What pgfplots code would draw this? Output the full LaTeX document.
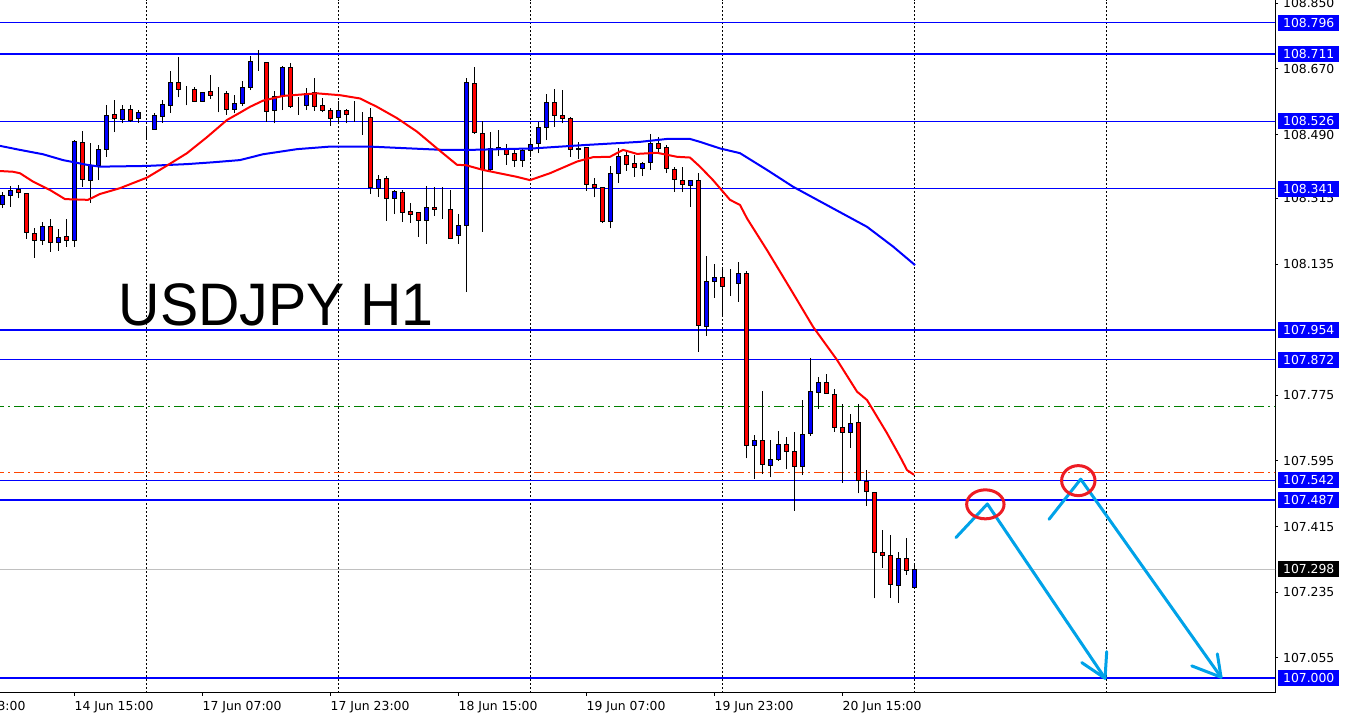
\documentclass[border=0pt]{standalone}
\usepackage{fontspec}
\setmainfont{DejaVu Sans}
\newfontfamily\arialf{Liberation Sans}
\usepackage{pgfplots}
\usepackage{pgfplotstable}
\pgfplotsset{compat=1.18}
\definecolor{mtblue}{RGB}{0,0,255}
\definecolor{mtred}{RGB}{255,0,0}
\definecolor{arrowblue}{RGB}{0,162,232}
\definecolor{circred}{RGB}{237,28,36}
\definecolor{dgreen}{RGB}{0,128,0}
\definecolor{ored}{RGB}{255,69,0}
\definecolor{bidgray}{RGB}{192,192,192}

\pgfplotstableread{
k o h l c
0 108.299 108.333 108.288 108.324
1 108.324 108.349 108.292 108.337
2 108.340 108.351 108.315 108.331
3 108.329 108.329 108.204 108.222
4 108.219 108.234 108.152 108.200
5 108.200 108.250 108.188 108.237
6 108.237 108.258 108.169 108.195
7 108.195 108.230 108.172 108.208
8 108.211 108.258 108.183 108.200
9 108.200 108.475 108.181 108.472
10 108.469 108.501 108.347 108.367
11 108.365 108.466 108.303 108.406
12 108.404 108.461 108.365 108.450
13 108.450 108.570 108.429 108.543
14 108.546 108.585 108.497 108.534
15 108.530 108.571 108.521 108.559
16 108.559 108.570 108.525 108.529
17 108.533 108.557 108.523 108.551
18 108.502 108.514 108.475 108.502
19 108.503 108.549 108.503 108.543
20 108.540 108.586 108.523 108.573
21 108.570 108.664 108.550 108.633
22 108.633 108.704 108.592 108.614
23 108.615 108.623 108.570 108.615
24 108.614 108.621 108.579 108.581
25 108.581 108.608 108.580 108.606
26 108.609 108.654 108.587 108.598
27 108.603 108.621 108.551 108.603
28 108.603 108.610 108.544 108.559
29 108.559 108.598 108.548 108.576
30 108.576 108.637 108.569 108.620
31 108.620 108.705 108.612 108.691
32 108.689 108.722 108.665 108.689
33 108.688 108.688 108.525 108.553
34 108.556 108.610 108.521 108.594
35 108.594 108.678 108.557 108.675
36 108.675 108.687 108.563 108.566
37 108.569 108.594 108.545 108.569
38 108.569 108.617 108.557 108.603
39 108.606 108.644 108.555 108.566
40 108.571 108.589 108.551 108.556
41 108.557 108.562 108.514 108.533
42 108.536 108.582 108.523 108.557
43 108.557 108.560 108.521 108.546
44 108.546 108.582 108.525 108.546
45 108.538 108.553 108.489 108.538
46 108.537 108.562 108.327 108.346
47 108.343 108.379 108.320 108.367
48 108.370 108.376 108.253 108.315
49 108.315 108.338 108.272 108.335
50 108.332 108.338 108.251 108.277
51 108.280 108.302 108.248 108.271
52 108.275 108.275 108.210 108.255
53 108.255 108.349 108.191 108.291
54 108.291 108.347 108.268 108.285
55 108.287 108.347 108.259 108.287
56 108.285 108.338 108.203 108.206
57 108.212 108.272 108.190 108.242
58 108.242 108.644 108.058 108.633
59 108.631 108.674 108.492 108.496
60 108.494 108.527 108.224 108.393
61 108.393 108.498 108.388 108.452
62 108.448 108.503 108.432 108.455
63 108.452 108.464 108.407 108.436
64 108.439 108.454 108.402 108.420
65 108.420 108.452 108.402 108.445
66 108.445 108.478 108.429 108.463
67 108.466 108.525 108.439 108.510
68 108.510 108.601 108.475 108.579
69 108.579 108.615 108.512 108.542
70 108.543 108.612 108.521 108.534
71 108.535 108.539 108.429 108.448
72 108.448 108.470 108.422 108.452
73 108.455 108.457 108.336 108.354
74 108.354 108.372 108.318 108.346
75 108.344 108.344 108.247 108.251
76 108.251 108.404 108.233 108.384
77 108.384 108.452 108.358 108.430
78 108.433 108.448 108.391 108.409
79 108.411 108.434 108.374 108.400
80 108.397 108.416 108.376 108.411
81 108.414 108.492 108.393 108.466
82 108.466 108.483 108.439 108.452
83 108.455 108.461 108.384 108.397
84 108.395 108.400 108.333 108.367
85 108.364 108.400 108.333 108.354
86 108.351 108.364 108.292 108.364
87 108.364 108.385 107.895 107.967
88 107.963 108.157 107.938 108.088
89 108.087 108.135 108.043 108.099
90 108.099 108.128 107.995 108.074
91 108.078 108.121 108.047 108.078
92 108.082 108.141 108.032 108.110
93 108.110 108.116 107.602 107.636
94 107.637 107.666 107.545 107.650
95 107.650 107.787 107.559 107.586
96 107.582 107.652 107.550 107.600
97 107.600 107.678 107.596 107.641
98 107.641 107.660 107.572 107.622
99 107.622 107.674 107.459 107.579
100 107.579 107.762 107.557 107.668
101 107.670 107.877 107.664 107.786
102 107.783 107.826 107.738 107.811
103 107.811 107.834 107.779 107.781
104 107.778 107.792 107.675 107.687
105 107.687 107.751 107.535 107.674
106 107.674 107.724 107.631 107.698
107 107.701 107.751 107.506 107.542
108 107.539 107.570 107.472 107.511
109 107.509 107.509 107.218 107.345
110 107.343 107.406 107.302 107.336
111 107.336 107.392 107.220 107.257
112 107.253 107.345 107.206 107.328
113 107.328 107.384 107.283 107.295
114 107.248 107.314 107.243 107.298
}\candles

\pgfplotstableread{
k p
-0.29 108.390
1.34 108.388
2.21 108.384
3.84 108.361
5.96 108.338
7.84 108.313
10.71 108.311
12.21 108.327
14.71 108.343
18.09 108.372
20.59 108.405
23.09 108.439
25.59 108.483
28.09 108.530
29.71 108.550
30.96 108.566
32.59 108.583
35.09 108.596
39.34 108.603
42.21 108.598
44.71 108.589
46.84 108.566
49.34 108.535
51.84 108.498
54.34 108.452
56.84 108.407
57.96 108.406
60.09 108.393
64.34 108.374
65.96 108.365
68.46 108.384
71.84 108.416
73.84 108.428
75.96 108.429
77.59 108.448
79.34 108.437
81.84 108.440
84.34 108.429
85.96 108.427
87.21 108.402
88.84 108.365
90.96 108.311
92.21 108.297
93.09 108.260
95.59 108.173
98.84 108.055
101.34 107.963
104.34 107.872
106.84 107.785
108.09 107.762
110.59 107.671
112.21 107.607
113.09 107.570
113.96 107.557
}\maRed

\pgfplotstableread{
k p
-0.29 108.459
2.21 108.448
5.09 108.436
7.59 108.420
10.59 108.407
12.21 108.402
18.09 108.404
23.09 108.409
26.34 108.414
29.71 108.420
32.59 108.436
36.84 108.450
40.96 108.457
45.96 108.457
50.96 108.452
55.09 108.448
58.46 108.448
66.34 108.452
72.59 108.461
79.71 108.470
83.09 108.478
85.96 108.478
87.21 108.470
89.71 108.452
92.21 108.439
95.59 108.393
98.84 108.347
103.46 108.292
108.09 108.237
111.34 108.183
114.09 108.132
}\maBlue

\pgfplotsset{
  base/.style={at={(0,0)}, anchor=south west, scale only axis,
    width=637.5pt, height=346.25pt,
    xmin=-0.2875, xmax=159.0875, ymin=106.960, ymax=108.859},
}
\tikzset{
  lbl/.style={anchor=west, inner sep=0pt, font=\fontsize{6.2}{7}\selectfont},
  bbox/.style={anchor=west, inner sep=0pt, minimum width=30.85pt, minimum height=8pt, fill=mtblue},
}

\begin{document}
\begin{tikzpicture}
\useasboundingbox (0,-13.25pt) rectangle (673.5pt,346.25pt);
% Layer A: frame, grid, levels, wicks
\begin{axis}[base,
  axis x line*=bottom, axis y line*=right,
  axis line style={-,black,line width=0.5pt},
  tick align=outside, major tick length=1.6pt,
  tick style={black,line width=0.5pt},
  xtick={-7,9,25,41,57,73,89,105}, xticklabels={},
  ytick={108.850,108.670,108.490,108.315,108.135,107.775,107.595,107.415,107.235,107.055},
  yticklabels={},
  extra x ticks={18,42,66,90,114,138}, extra x tick labels={},
  extra x tick style={major tick length=0pt, grid=major,
    major grid style={black,line width=0.5pt,dash pattern=on 1pt off 1pt}},
]
\addplot[mtblue, line width=0.5pt] coordinates {(-1,108.796) (160,108.796)};
\addplot[mtblue, line width=1pt] coordinates {(-1,108.711) (160,108.711)};
\addplot[mtblue, line width=0.5pt] coordinates {(-1,108.526) (160,108.526)};
\addplot[mtblue, line width=0.5pt] coordinates {(-1,108.341) (160,108.341)};
\addplot[mtblue, line width=1pt] coordinates {(-1,107.954) (160,107.954)};
\addplot[mtblue, line width=0.5pt] coordinates {(-1,107.872) (160,107.872)};
\addplot[dgreen, line width=0.5pt, dash pattern=on 5pt off 2pt on 1pt off 2pt] coordinates {(-1,107.744) (160,107.744)};
\addplot[ored, line width=0.5pt, dash pattern=on 5pt off 2pt on 1pt off 2pt] coordinates {(-1,107.564) (160,107.564)};
\addplot[mtblue, line width=0.5pt] coordinates {(-1,107.542) (160,107.542)};
\addplot[mtblue, line width=1pt] coordinates {(-1,107.487) (160,107.487)};
\addplot[bidgray, line width=0.5pt] coordinates {(-1,107.298) (160,107.298)};
\addplot[mtblue, line width=1pt] coordinates {(-1,107.000) (160,107.000)};
% wicks
\addplot[draw=none, mark=none, error bars/.cd, y dir=plus, y explicit, error mark=none,
  error bar style={draw=black, solid, line width=0.5pt}]
  table[x=k, y=l, y error expr=\thisrow{h}-\thisrow{l}] {\candles};
\end{axis}
% Layer B: candle bodies
\begin{axis}[base, hide axis, ybar stacked, bar width=2pt]
\addplot[draw=none, fill=none] table[x=k, y expr={min(\thisrow{o},\thisrow{c})}] {\candles};
\addplot[draw=black, line width=0.5pt, fill=mtblue] table[x=k, y expr={max(\thisrow{c}-\thisrow{o},0)}] {\candles};
\addplot[draw=black, line width=0.5pt, fill=mtred] table[x=k, y expr={max(\thisrow{o}-\thisrow{c},0)}] {\candles};
\end{axis}
% Layer C: averages, annotations, labels
\begin{axis}[base, hide axis, clip=false]
\addplot[mtblue, line width=1pt, line join=round] table[x=k, y=p] {\maBlue};
\addplot[mtred, line width=1pt, line join=round] table[x=k, y=p] {\maRed};
% drawn arrows
\addplot[arrowblue, line width=1.5pt, line join=round, line cap=round] coordinates {(119.21,107.385) (123.13,107.477) (137.84,106.999)};
\addplot[arrowblue, line width=1.5pt, line join=round, line cap=round] coordinates {(134.93,107.042) (137.84,106.999) (138.05,107.072)};
\addplot[arrowblue, line width=1.5pt, line join=round, line cap=round] coordinates {(130.84,107.435) (134.80,107.545) (152.34,107.002)};
\addplot[arrowblue, line width=1.5pt, line join=round, line cap=round] coordinates {(148.68,107.033) (152.34,107.002) (151.88,107.066)};
\draw[circred, line width=1.5pt] (axis cs:122.88,107.476) ellipse [x radius=9.35pt, y radius=7.25pt];
\draw[circred, line width=1.5pt] (axis cs:134.5,107.541) ellipse [x radius=8.35pt, y radius=7.5pt];
% title
\node[anchor=base west, inner sep=0pt, font=\arialf\fontsize{30}{36}\selectfont] at (axis cs:14.5,107.966) {\scalebox{0.955}[1]{USDJPY H1}};
% price scale labels
\node[lbl] at ([xshift=3.85pt]axis cs:159.0875,108.850) {108.850};
\node[lbl] at ([xshift=3.85pt]axis cs:159.0875,108.670) {108.670};
\node[lbl] at ([xshift=3.85pt]axis cs:159.0875,108.490) {108.490};
\node[lbl] at ([xshift=3.85pt]axis cs:159.0875,108.315) {108.315};
\node[lbl] at ([xshift=3.85pt]axis cs:159.0875,108.135) {108.135};
\node[lbl] at ([xshift=3.85pt]axis cs:159.0875,107.775) {107.775};
\node[lbl] at ([xshift=3.85pt]axis cs:159.0875,107.595) {107.595};
\node[lbl] at ([xshift=3.85pt]axis cs:159.0875,107.415) {107.415};
\node[lbl] at ([xshift=3.85pt]axis cs:159.0875,107.235) {107.235};
\node[lbl] at ([xshift=3.85pt]axis cs:159.0875,107.055) {107.055};
% level boxes
\node[bbox] at ([xshift=1.15pt]axis cs:159.0875,108.796) {};
\node[lbl,text=white] at ([xshift=3.85pt]axis cs:159.0875,108.796) {108.796};
\node[bbox] at ([xshift=1.15pt]axis cs:159.0875,108.711) {};
\node[lbl,text=white] at ([xshift=3.85pt]axis cs:159.0875,108.711) {108.711};
\node[bbox] at ([xshift=1.15pt]axis cs:159.0875,108.526) {};
\node[lbl,text=white] at ([xshift=3.85pt]axis cs:159.0875,108.526) {108.526};
\node[bbox] at ([xshift=1.15pt]axis cs:159.0875,108.341) {};
\node[lbl,text=white] at ([xshift=3.85pt]axis cs:159.0875,108.341) {108.341};
\node[bbox] at ([xshift=1.15pt]axis cs:159.0875,107.954) {};
\node[lbl,text=white] at ([xshift=3.85pt]axis cs:159.0875,107.954) {107.954};
\node[bbox] at ([xshift=1.15pt]axis cs:159.0875,107.872) {};
\node[lbl,text=white] at ([xshift=3.85pt]axis cs:159.0875,107.872) {107.872};
\node[bbox] at ([xshift=1.15pt]axis cs:159.0875,107.542) {};
\node[lbl,text=white] at ([xshift=3.85pt]axis cs:159.0875,107.542) {107.542};
\node[bbox] at ([xshift=1.15pt]axis cs:159.0875,107.487) {};
\node[lbl,text=white] at ([xshift=3.85pt]axis cs:159.0875,107.487) {107.487};
\node[bbox, fill=black] at ([xshift=1.15pt]axis cs:159.0875,107.298) {};
\node[lbl,text=white] at ([xshift=3.85pt]axis cs:159.0875,107.298) {107.298};
\node[bbox] at ([xshift=1.15pt]axis cs:159.0875,107.000) {};
\node[lbl,text=white] at ([xshift=3.85pt]axis cs:159.0875,107.000) {107.000};
% time labels
\node[lbl, anchor=north west] at ([yshift=-4pt]axis cs:-7,106.960) {13 Jun 23:00};
\node[lbl, anchor=north west] at ([yshift=-4pt]axis cs:9,106.960) {14 Jun 15:00};
\node[lbl, anchor=north west] at ([yshift=-4pt]axis cs:25,106.960) {17 Jun 07:00};
\node[lbl, anchor=north west] at ([yshift=-4pt]axis cs:41,106.960) {17 Jun 23:00};
\node[lbl, anchor=north west] at ([yshift=-4pt]axis cs:57,106.960) {18 Jun 15:00};
\node[lbl, anchor=north west] at ([yshift=-4pt]axis cs:73,106.960) {19 Jun 07:00};
\node[lbl, anchor=north west] at ([yshift=-4pt]axis cs:89,106.960) {19 Jun 23:00};
\node[lbl, anchor=north west] at ([yshift=-4pt]axis cs:105,106.960) {20 Jun 15:00};
\end{axis}
\end{tikzpicture}
\end{document}
